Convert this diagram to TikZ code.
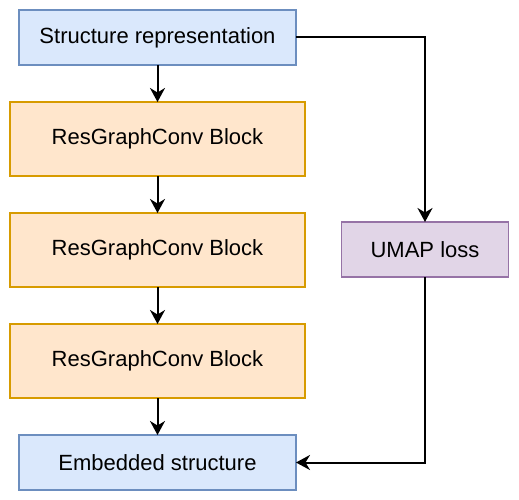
\documentclass[tikz,border=0pt]{standalone}
\usepackage{fontspec}
\setmainfont{Liberation Sans}
\usepackage{tikz}
\usetikzlibrary{arrows.meta,positioning}
\definecolor{bluefill}{HTML}{DAE8FC}
\definecolor{bluedraw}{HTML}{6C8EBF}
\definecolor{orgfill}{HTML}{FFE6CC}
\definecolor{orgdraw}{HTML}{D79B00}
\definecolor{purfill}{HTML}{E1D5E7}
\definecolor{purdraw}{HTML}{9673A6}
\tikzset{
  io/.style={rectangle,draw=bluedraw,fill=bluefill,line width=1.5pt,minimum width=277pt,minimum height=55pt,align=center,font=\fontsize{22}{26}\selectfont},
  blk/.style={rectangle,draw=orgdraw,fill=orgfill,line width=1.5pt,minimum width=295pt,minimum height=74pt,align=center,font=\fontsize{22}{26}\selectfont},
  loss/.style={rectangle,draw=purdraw,fill=purfill,line width=1.5pt,minimum width=167pt,minimum height=55pt,align=center,font=\fontsize{22}{26}\selectfont},
  arr/.style={-{Stealth[length=14pt,width=15pt,inset=4.5pt]},line width=2pt},
}

\begin{document}
\begin{tikzpicture}[x=1pt,y=-1pt,node distance=37pt,outer sep=0pt]
  \useasboundingbox (0,0) rectangle (519,500);
  \node[io] (rep) at (157.5,37.5) {Structure representation};
  \node[blk,below=of rep] (b1) {ResGraphConv Block};
  \node[blk,below=of b1] (b2) {ResGraphConv Block};
  \node[blk,below=of b2] (b3) {ResGraphConv Block};
  \node[io,below=of b3] (emb) {Embedded structure};
  \node[loss] (umap) at (425,249.5) {UMAP loss};
  \draw[arr] (rep) -- (b1);
  \draw[arr] (b1) -- (b2);
  \draw[arr] (b2) -- (b3);
  \draw[arr] (b3) -- (emb);
  \draw[arr] (rep.east) -| (umap.north);
  \draw[arr] (umap.south) |- (emb.east);
\end{tikzpicture}
\end{document}
